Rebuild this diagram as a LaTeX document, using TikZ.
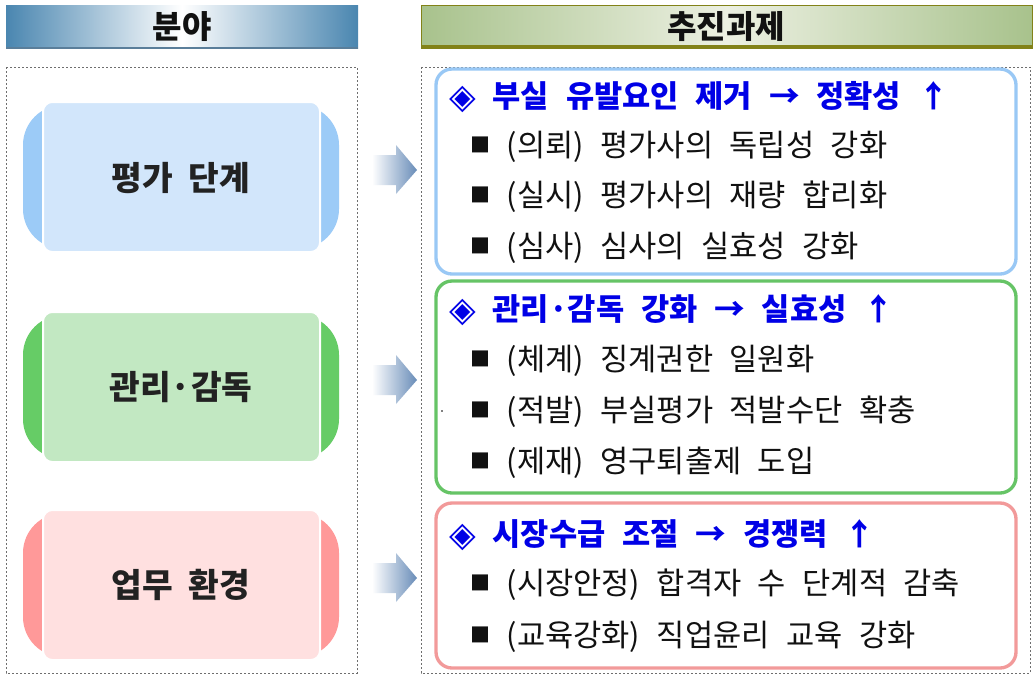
\documentclass[tikz,border=0pt]{standalone}
\usepackage{fontspec}
\setmainfont{Noto Sans CJK KR}[WordSpace=2.1]
\newfontfamily\itemfont{Noto Sans CJK KR}[WordSpace=3.8]
\newfontfamily\titlefont{Noto Sans CJK KR}[WordSpace=2.4]
\newfontfamily\symfont{DejaVu Sans}
\usepackage{tikz}
\definecolor{hdrblue}{RGB}{74,134,176}
\definecolor{hdrline}{RGB}{90,126,154}
\definecolor{hdrgreen}{RGB}{168,194,140}
\definecolor{hdrlight}{RGB}{236,240,226}
\definecolor{hdrolive}{RGB}{130,130,24}
\definecolor{tabblue}{RGB}{156,203,247}
\definecolor{fillblue}{RGB}{210,230,251}
\definecolor{tabgreen}{RGB}{102,204,102}
\definecolor{fillgreen}{RGB}{194,232,194}
\definecolor{tabred}{RGB}{255,153,153}
\definecolor{fillred}{RGB}{255,224,224}
\definecolor{lineblue}{RGB}{153,200,245}
\definecolor{linegreen}{RGB}{102,196,102}
\definecolor{linered}{RGB}{242,154,154}
\definecolor{titleblue}{RGB}{0,0,230}
\definecolor{arrowblue}{RGB}{104,140,184}
\definecolor{dotgray}{RGB}{110,110,110}
\definecolor{inkdark}{RGB}{17,17,17}
\definecolor{fielddark}{RGB}{34,34,34}
\newcommand{\sqbullet}{\raisebox{3pt}{\fontsize{15}{15}\selectfont ■}}
\newcommand{\diamark}{\raisebox{-0.5pt}{\symfont\fontsize{26}{26}\selectfont ◈}}

\begin{document}
\begin{tikzpicture}[x=0.75pt,y=0.75pt,yscale=-1,xscale=1,
    hdrtext/.style={inner sep=0.75pt, font=\bfseries\fontsize{24}{28}\selectfont, text=inkdark},
    fieldtext/.style={inner sep=0.75pt, font=\bfseries\fontsize{25}{29}\selectfont, text=fielddark},
    titletext/.style={anchor=west, inner sep=0.75pt, font=\titlefont\bfseries\fontsize{23}{27}\selectfont, text=titleblue},
    itemtext/.style={anchor=west, inner sep=0.75pt, font=\itemfont\fontsize{23}{27}\selectfont, text=inkdark},
    dotbox/.style={draw=dotgray, line width=0.6, dash pattern=on 1.5pt off 1.5pt}]
    \useasboundingbox (0,0) rectangle (1036,679);
    \fill[white] (0,0) rectangle (1036,679);

    %Shape: Header left
    \shade[left color=hdrblue, right color=hdrblue, middle color=white] (6,5) rectangle (358,48);
    \draw[hdrline, line width=1.5] (6,47.5) -- (358,47.5);
    %Shape: Header right
    \shade[left color=hdrgreen, right color=hdrgreen, middle color=hdrlight] (421,5) rectangle (1032,48);
    \draw[hdrolive, line width=0.75] (421,5) rectangle (1032,48);
    \draw[hdrolive, line width=3] (421,46.5) -- (1032,46.5);

    %Shape: Dotted frames
    \draw[dotbox] (6,67) rectangle (357,673);
    \draw[dotbox] (421,67) rectangle (1030,673);

    %Shape: Field boxes
    \fill[tabblue, rounded corners=30] (23,105) rectangle (339,249);
    \draw[white, line width=1.5, fill=fillblue, rounded corners=7] (43,102) rectangle (320,252);
    \fill[tabgreen, rounded corners=30] (23,315) rectangle (339,459);
    \draw[white, line width=1.5, fill=fillgreen, rounded corners=7] (43,312) rectangle (320,462);
    \fill[tabred, rounded corners=30] (23,513) rectangle (339,657);
    \draw[white, line width=1.5, fill=fillred, rounded corners=7] (43,510) rectangle (320,660);

    %Shape: Block arrows
    \shade[left color=white, right color=arrowblue] (372,155) -- (396,155) -- (396,145) -- (417,170) -- (396,194) -- (396,185) -- (372,185) -- cycle;
    \shade[left color=white, right color=arrowblue] (372,365) -- (396,365) -- (396,355) -- (417,380) -- (396,404) -- (396,395) -- (372,395) -- cycle;
    \shade[left color=white, right color=arrowblue] (372,563) -- (396,563) -- (396,553) -- (417,578) -- (396,602) -- (396,593) -- (372,593) -- cycle;

    %Shape: Task boxes
    \draw[lineblue, line width=2.5, rounded corners=12] (436,69) rectangle (1016,274);
    \draw[linegreen, line width=2.5, rounded corners=12] (436,281) rectangle (1016,493);
    \draw[linered, line width=2.5, rounded corners=12] (436,503) rectangle (1016,668);
    \fill[black] (442,411) circle (0.8);

    % Text Node
    \node[hdrtext] (hdrField) at (182,27) {분야};
    % Text Node
    \node[hdrtext] (hdrTask) at (726,27) {추진과제};
    % Text Node
    \node[fieldtext] (fieldEval) at (181,178) {평가 단계};
    % Text Node
    \node[fieldtext] (fieldSuper) at (181,387) {관리·감독};
    % Text Node
    \node[fieldtext] (fieldEnv) at (181,585) {업무 환경};

    % Text Node
    \node[titletext] (titleEval) at (448,97) {\diamark{} 부실 유발요인 제거 → 정확성 ↑};
    \node[itemtext] (itemEvalA) at (469,147) {\sqbullet{} (의뢰) 평가사의 독립성 강화};
    \node[itemtext] (itemEvalB) at (469,197) {\sqbullet{} (실시) 평가사의 재량 합리화};
    \node[itemtext] (itemEvalC) at (469,248) {\sqbullet{} (심사) 심사의 실효성 강화};
    % Text Node
    \node[titletext] (titleSuper) at (448,310) {\diamark{} 관리·감독 강화 → 실효성 ↑};
    \node[itemtext] (itemSuperA) at (469,361) {\sqbullet{} (체계) 징계권한 일원화};
    \node[itemtext] (itemSuperB) at (469,412) {\sqbullet{} (적발) 부실평가 적발수단 확충};
    \node[itemtext] (itemSuperC) at (469,463) {\sqbullet{} (제재) 영구퇴출제 도입};
    % Text Node
    \node[titletext] (titleEnv) at (448,535) {\diamark{} 시장수급 조절 → 경쟁력 ↑};
    \node[itemtext] (itemEnvA) at (469,585) {\sqbullet{} (시장안정) 합격자 수 단계적 감축};
    \node[itemtext] (itemEnvB) at (469,637) {\sqbullet{} (교육강화) 직업윤리 교육 강화};
\end{tikzpicture}
\end{document}
